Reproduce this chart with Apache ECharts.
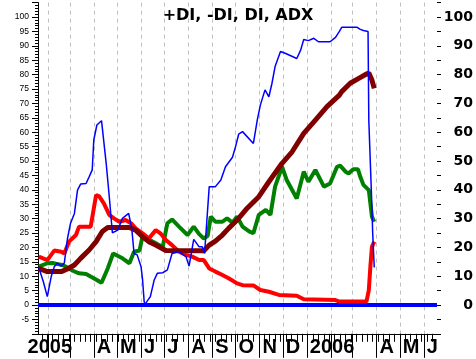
<!DOCTYPE html>
<html><head><meta charset="utf-8">
<script src="https://cdn.jsdelivr.net/npm/echarts@6/dist/echarts.min.js"></script>
<style>html,body{margin:0;padding:0;background:#fff}#c{width:476px;height:359px}</style>
</head><body><div id="c"></div>
<script>
const chartTitle = '+DI, -DI, DI, ADX';
const firstDay = '2005-01-19';
const lastDay = '2006-06-18';
const monthLetters = ['J','F','M','A','M','J','J','A','S','O','N','D'];
const hiddenMonths = ['02','03'];
const yearLabelDay = '2005-03-04';
const zeroLine = [0, 0];

const plusDI = [
['2005-01-20',13.3],['2005-01-31',14.5],['2005-02-07',14.6],['2005-02-13',14.2],['2005-02-20',13.9],['2005-02-24',13.3],['2005-03-05',11.9],['2005-03-13',11],['2005-03-22',10.8],['2005-04-01',9.3],['2005-04-11',7.7],['2005-04-19',12.7],['2005-04-26',17.9],['2005-05-08',16.2],['2005-05-17',14.5],['2005-05-23',18.5],['2005-05-30',18.9],['2005-06-03',24],['2005-06-10',23],['2005-06-16',22],['2005-06-23',21],['2005-06-29',20.2],['2005-07-05',28.4],['2005-07-11',29.7],['2005-07-20',27.2],['2005-07-31',24.3],['2005-08-08',27.2],['2005-08-15',24.6],['2005-08-21',23.1],['2005-08-26',24],['2005-08-30',30.7],['2005-09-05',28.9],['2005-09-14',28.9],['2005-09-20',30.1],['2005-09-27',28.6],['2005-10-03',30.7],['2005-10-10',27.2],['2005-10-19',25.5],['2005-10-24',24.9],['2005-10-31',31.3],['2005-11-09',33],['2005-11-15',31.3],['2005-11-21',41.1],['2005-11-30',48],['2005-12-06',43.4],['2005-12-19',37],['2005-12-28',46.3],['2006-01-03',42.8],['2006-01-12',46.9],['2006-01-23',41.1],['2006-01-31',42.2],['2006-02-09',48],['2006-02-13',48.4],['2006-02-20',46.3],['2006-02-24',45.7],['2006-03-02',47.1],['2006-03-08',47.1],['2006-03-11',44.5],['2006-03-15',41.7],['2006-03-22',39.9],['2006-03-24',35.3],['2006-03-26',30.7],['2006-03-29',28.9]
];
const minusDI = [
['2005-01-20',16.8],['2005-01-31',15.6],['2005-02-09',18.9],['2005-02-18',18.5],['2005-02-22',17.9],['2005-02-28',22],['2005-03-09',24.3],['2005-03-13',27.2],['2005-03-28',27.2],['2005-04-04',38.2],['2005-04-08',37.7],['2005-04-14',35.3],['2005-04-21',31.3],['2005-04-27',30.1],['2005-05-04',28.9],['2005-05-12',29.5],['2005-05-19',28.4],['2005-05-25',26.6],['2005-06-03',24.9],['2005-06-11',23.1],['2005-06-20',26],['2005-06-26',24.9],['2005-07-03',22.6],['2005-07-11',20.8],['2005-07-20',18.5],['2005-07-29',17.4],['2005-08-06',16.8],['2005-08-15',15.6],['2005-08-21',15.6],['2005-08-28',12.7],['2005-09-05',11.6],['2005-09-14',10.4],['2005-09-22',9.3],['2005-10-03',7.5],['2005-10-10',6.9],['2005-10-24',6.8],['2005-11-02',5.2],['2005-11-13',4.6],['2005-11-26',3.5],['2005-12-19',3.2],['2005-12-28',2.0],['2006-02-07',1.7],['2006-02-12',1.2],['2006-03-19',1.2],['2006-03-22',5.2],['2006-03-24',13.3],['2006-03-26',20.2],['2006-03-29',22]
];
const dx = [
['2005-01-20',13],['2005-01-26',8],['2005-01-31',2.9],['2005-02-05',9.8],['2005-02-09',13.3],['2005-02-13',14.6],['2005-02-18',13.5],['2005-02-22',14.6],['2005-02-26',23],['2005-03-02',28.4],['2005-03-07',31.8],['2005-03-11',39.9],['2005-03-15',42],['2005-03-22',42.2],['2005-03-26',44.5],['2005-03-30',46.9],['2005-04-01',57.3],['2005-04-05',62.5],['2005-04-11',64],['2005-04-17',49.2],['2005-04-21',37.6],['2005-04-25',25.1],['2005-05-02',26],['2005-05-08',30.1],['2005-05-16',31.8],['2005-05-20',26.6],['2005-05-23',17.9],['2005-05-27',17.4],['2005-06-01',13.3],['2005-06-03',8.7],['2005-06-05',1.2],['2005-06-06',0.2],['2005-06-13',2.9],['2005-06-18',8.7],['2005-06-22',11],['2005-06-29',11.2],['2005-07-05',12.2],['2005-07-11',17.9],['2005-07-20',18.5],['2005-07-29',16.8],['2005-08-02',13.5],['2005-08-08',22.8],['2005-08-15',20.2],['2005-08-19',20.2],['2005-08-22',17.9],['2005-08-25',29.5],['2005-08-28',41.1],['2005-09-05',41.1],['2005-09-12',43.4],['2005-09-18',48],['2005-09-27',51.3],['2005-10-01',55],['2005-10-05',59.3],['2005-10-10',60.2],['2005-10-24',56.1],['2005-10-29',64.2],['2005-11-02',69.4],['2005-11-08',74.7],['2005-11-13',72.3],['2005-11-17',77],['2005-11-21',82.8],['2005-11-28',88],['2005-12-04',87.4],['2005-12-19',85.6],['2005-12-24',88.5],['2005-12-28',92.2],['2006-01-03',91.8],['2006-01-10',92.6],['2006-01-16',91.4],['2006-01-31',91.4],['2006-02-07',92.9],['2006-02-12',95],['2006-02-15',96.4],['2006-03-07',96.4],['2006-03-11',95.7],['2006-03-15',95.3],['2006-03-21',95],['2006-03-22',64],['2006-03-24',49],['2006-03-26',34],['2006-03-27',25],['2006-03-29',13]
];
const adx = [
['2005-01-20',12.7],['2005-01-31',11.6],['2005-02-18',11.6],['2005-02-26',12.5],['2005-03-07',13.9],['2005-03-15',16.2],['2005-03-26',19.1],['2005-04-04',22],['2005-04-12',25.5],['2005-04-19',26.9],['2005-05-17',26.9],['2005-05-25',26],['2005-06-03',23.7],['2005-06-11',22],['2005-06-20',20.8],['2005-07-03',18.9],['2005-08-21',18.8],['2005-08-28',20.8],['2005-09-05',22.2],['2005-09-14',24.3],['2005-09-22',26.6],['2005-10-03',29.5],['2005-10-16',33.6],['2005-10-31',37.6],['2005-11-13',42.8],['2005-11-30',49.2],['2005-12-13',53.2],['2005-12-28',59.6],['2006-01-12',64.2],['2006-01-27',68.9],['2006-02-12',72.9],['2006-02-15',74.1],['2006-02-26',77],['2006-03-09',78.7],['2006-03-19',80.2],['2006-03-22',80.6],['2006-03-26',78.1],['2006-03-29',75.2]
];

function buildDays(a, b) {
  const out = [];
  let t = Date.parse(a + 'T00:00:00Z');
  const end = Date.parse(b + 'T00:00:00Z');
  while (t <= end) { out.push(new Date(t).toISOString().slice(0, 10)); t += 86400000; }
  return out;
}
const days = buildDays(firstDay, lastDay);
const dayIndex = {};
days.forEach((d, i) => { dayIndex[d] = i; });
const toData = arr => arr.map(p => [dayIndex[p[0]], p[1]]);
const isMonthStart = (i, v) => v.slice(8) === '01';
const isMonday = (i, v) => new Date(v + 'T00:00:00Z').getUTCDay() === 1;

const chart = echarts.init(document.getElementById('c'), null, {renderer: 'canvas'});
const lineSeries = (data, color, width) => ({
  type: 'line', data: toData(data), showSymbol: false, symbol: 'none',
  lineStyle: {color: color, width: width}, itemStyle: {color: color}, animation: false
});
chart.setOption({
  backgroundColor: '#ffffff',
  animation: false,
  title: {
    text: chartTitle, left: 'center', top: 3,
    textStyle: {fontFamily: 'DejaVu Sans', fontWeight: 'bold', fontSize: 16, color: '#000'}
  },
  grid: {left: 38, right: 38, top: 2.6, bottom: 25.2, containLabel: false},
  xAxis: [
    {
      type: 'category', data: days, boundaryGap: false, position: 'bottom',
      axisLine: {show: true, onZero: false, lineStyle: {color: '#000', width: 1}},
      axisTick: {show: true, interval: isMonthStart, length: 24, lineStyle: {color: '#000', width: 1}},
      axisLabel: {
        interval: (i, v) => isMonthStart(i, v) && hiddenMonths.indexOf(v.slice(5, 7)) < 0,
        formatter: v => v.slice(5, 7) === '01' ? v.slice(0, 4) : monthLetters[+v.slice(5, 7) - 1],
        align: 'left', padding: [0, 0, 0, 3], margin: 4,
        fontFamily: 'Liberation Sans', fontWeight: 'bold', fontSize: 20, color: '#000'
      },
      splitLine: {show: true, interval: isMonthStart, lineStyle: {color: '#c0c0c0', width: 1, type: [4, 4]}}
    },
    {
      type: 'category', data: days, boundaryGap: false, position: 'bottom',
      axisLine: {show: false, onZero: false},
      axisTick: {show: true, interval: isMonday, length: 8, lineStyle: {color: '#000', width: 1}},
      axisLabel: {show: false}, splitLine: {show: false}
    },
    {
      type: 'category', data: days, boundaryGap: false, position: 'bottom',
      axisLine: {show: false, onZero: false}, axisTick: {show: false},
      axisLabel: {
        interval: (i, v) => v === yearLabelDay, formatter: v => v.slice(0, 4),
        align: 'right', margin: 4,
        fontFamily: 'Liberation Sans', fontWeight: 'bold', fontSize: 20, color: '#000'
      },
      splitLine: {show: false}
    }
  ],
  yAxis: [
    {
      type: 'value', position: 'left', min: -10, max: 105, interval: 5,
      axisLine: {show: true, lineStyle: {color: '#000', width: 1}},
      axisTick: {show: true, length: 6, lineStyle: {color: '#000', width: 1}},
      minorTick: {show: true, splitNumber: 5, length: 3, lineStyle: {color: '#000', width: 1}},
      axisLabel: {
        formatter: v => (v < -5 || v > 100) ? '' : String(v), margin: 9,
        fontFamily: 'Liberation Sans', fontSize: 8.5, color: '#000'
      },
      splitLine: {show: false}
    },
    {
      type: 'value', position: 'right', min: -10, max: 105, interval: 5,
      axisLine: {show: false},
      axisTick: {show: true, length: 4, lineStyle: {color: '#000', width: 1}},
      axisLabel: {
        formatter: v => (v % 10 === 0 && v >= 0 && v <= 100) ? String(v) : '',
        align: 'right', margin: 36,
        fontFamily: 'DejaVu Sans', fontWeight: 'bold', fontSize: 14, color: '#000'
      },
      splitLine: {show: false}
    }
  ],
  series: [
    {
      type: 'line', data: [[0, zeroLine[0]], [days.length - 1, zeroLine[1]]], showSymbol: false, symbol: 'none',
      lineStyle: {color: '#0000ff', width: 4}, animation: false
    },
    lineSeries(plusDI, '#008000', 4),
    lineSeries(minusDI, '#ff0000', 4),
    lineSeries(adx, '#800000', 5),
    lineSeries(dx, '#0000ff', 1.5)
  ]
});
</script>
</body></html>
